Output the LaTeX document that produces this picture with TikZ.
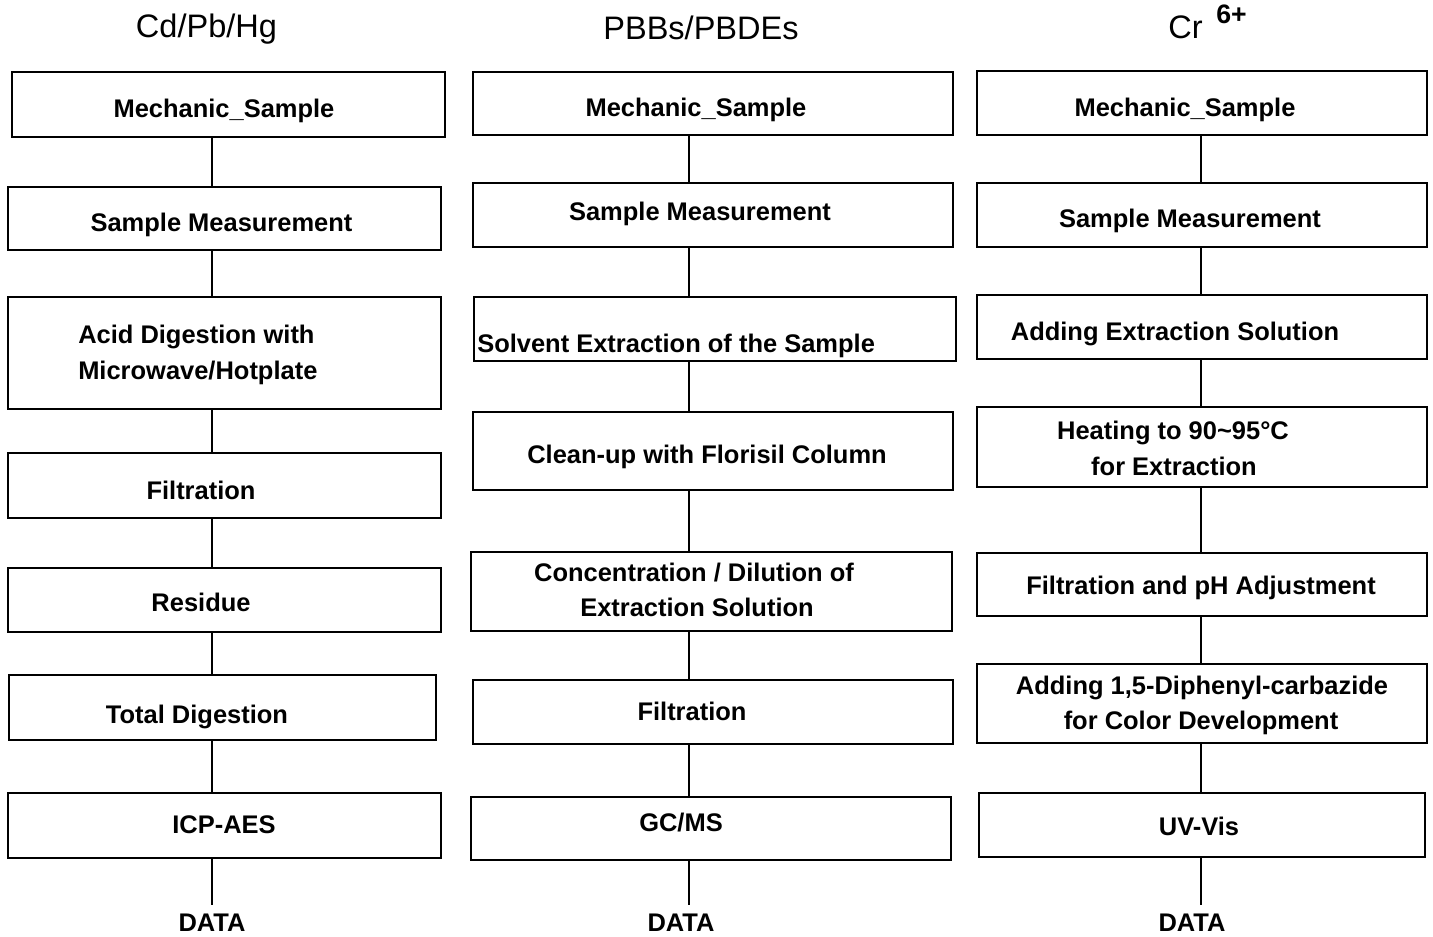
\documentclass[tikz,border=0pt]{standalone}
\usepackage{fontspec}
\setmainfont{Liberation Sans}
\usetikzlibrary{fit}
\tikzset{
  box/.style={draw, line width=2.1pt, inner sep=0pt, rectangle},
  lbl/.style={font=\bfseries\fontsize{19.1}{23}\selectfont, anchor=base, inner sep=0pt},
  lblw/.style={lbl, anchor=base west},
  hdr/.style={font=\fontsize{24.4}{29}\selectfont, anchor=base, inner sep=0pt},
  conn/.style={line width=1.5pt},
}
\begin{document}
\begin{tikzpicture}[x=0.75pt,y=-0.75pt]
\useasboundingbox (0,0) rectangle (1433,936);

% headers
\node[hdr] (h1) at (206.5,37) {Cd/Pb/Hg};
\node[hdr] (h2) at (701,39) {PBBs/PBDEs};
\node[hdr, anchor=base west] (h3) at (1168,38) {Cr};
\node[font=\bfseries\fontsize{20}{24}\selectfont, anchor=base west, inner sep=0pt] (h3s) at (1216,23) {6+};

% column 1
\node[box, fit={(12,72) (445,137)}] (a1) {};
\node[box, fit={(8,187) (441,250)}] (a2) {};
\node[box, fit={(8,297) (441,409)}] (a3) {};
\node[box, fit={(8,453) (441,518)}] (a4) {};
\node[box, fit={(8,568) (441,632)}] (a5) {};
\node[box, fit={(9,675) (436,740)}] (a6) {};
\node[box, fit={(8,793) (441,858)}] (a7) {};
\node[lbl] (ta1) at (224,117) {Mechanic\_Sample};
\node[lbl] (ta2) at (221.5,231) {Sample Measurement};
\node[lblw] (ta3a) at (78,343) {Acid Digestion with};
\node[lblw] (ta3b) at (78,379) {Microwave/Hotplate};
\node[lbl] (ta4) at (201,499) {Filtration};
\node[lbl] (ta5) at (201,611) {Residue};
\node[lbl] (ta6) at (197,723) {Total Digestion};
\node[lbl] (ta7) at (224,833) {ICP-AES};
\node[lbl] (da) at (212,931) {DATA};
\coordinate (la) at (212,0);
\coordinate (ea) at (212,905);
\draw[conn] (a1.south -| la) -- (a2.north -| la);
\draw[conn] (a2.south -| la) -- (a3.north -| la);
\draw[conn] (a3.south -| la) -- (a4.north -| la);
\draw[conn] (a4.south -| la) -- (a5.north -| la);
\draw[conn] (a5.south -| la) -- (a6.north -| la);
\draw[conn] (a6.south -| la) -- (a7.north -| la);
\draw[conn] (a7.south -| la) -- (ea);

% column 2
\node[box, fit={(473,72) (953,135)}] (b1) {};
\node[box, fit={(473,183) (953,247)}] (b2) {};
\node[box, fit={(474,297) (956,361)}] (b3) {};
\node[box, fit={(473,412) (953,490)}] (b4) {};
\node[box, fit={(471,552) (952,631)}] (b5) {};
\node[box, fit={(473,680) (953,744)}] (b6) {};
\node[box, fit={(471,797) (951,860)}] (b7) {};
\node[lbl] (tb1) at (696,116) {Mechanic\_Sample};
\node[lbl] (tb2) at (700,220) {Sample Measurement};
\node[lblw] (tb3) at (477,352) {Solvent Extraction of the Sample};
\node[lbl] (tb4) at (707,463) {Clean-up with Florisil Column};
\node[lbl] (tb5a) at (694,581) {Concentration / Dilution of};
\node[lbl] (tb5b) at (697,616) {Extraction Solution};
\node[lbl] (tb6) at (692,720) {Filtration};
\node[lbl] (tb7) at (681,831) {GC/MS};
\node[lbl] (db) at (681,931) {DATA};
\coordinate (lb) at (689,0);
\coordinate (eb) at (689,905);
\draw[conn] (b1.south -| lb) -- (b2.north -| lb);
\draw[conn] (b2.south -| lb) -- (b3.north -| lb);
\draw[conn] (b3.south -| lb) -- (b4.north -| lb);
\draw[conn] (b4.south -| lb) -- (b5.north -| lb);
\draw[conn] (b5.south -| lb) -- (b6.north -| lb);
\draw[conn] (b6.south -| lb) -- (b7.north -| lb);
\draw[conn] (b7.south -| lb) -- (eb);

% column 3
\node[box, fit={(977,71) (1427,135)}] (c1) {};
\node[box, fit={(977,183) (1427,247)}] (c2) {};
\node[box, fit={(977,295) (1427,359)}] (c3) {};
\node[box, fit={(977,407) (1427,487)}] (c4) {};
\node[box, fit={(977,553) (1427,616)}] (c5) {};
\node[box, fit={(977,664) (1427,743)}] (c6) {};
\node[box, fit={(979,793) (1425,857)}] (c7) {};
\node[lbl] (tc1) at (1185,116) {Mechanic\_Sample};
\node[lbl] (tc2) at (1190,227) {Sample Measurement};
\node[lbl] (tc3) at (1175,340) {Adding Extraction Solution};
\node[lbl] (tc4a) at (1173,439) {Heating to 90\textasciitilde 95°C};
\node[lbl] (tc4b) at (1174,475) {for Extraction};
\node[lbl] (tc5) at (1201,594) {Filtration and pH Adjustment};
\node[lbl] (tc6a) at (1202,694) {Adding 1,5-Diphenyl-carbazide};
\node[lbl] (tc6b) at (1201,729) {for Color Development};
\node[lbl] (tc7) at (1199,835) {UV-Vis};
\node[lbl] (dc) at (1192,931) {DATA};
\coordinate (lc) at (1201,0);
\coordinate (ec) at (1201,905);
\draw[conn] (c1.south -| lc) -- (c2.north -| lc);
\draw[conn] (c2.south -| lc) -- (c3.north -| lc);
\draw[conn] (c3.south -| lc) -- (c4.north -| lc);
\draw[conn] (c4.south -| lc) -- (c5.north -| lc);
\draw[conn] (c5.south -| lc) -- (c6.north -| lc);
\draw[conn] (c6.south -| lc) -- (c7.north -| lc);
\draw[conn] (c7.south -| lc) -- (ec);
\end{tikzpicture}
\end{document}
